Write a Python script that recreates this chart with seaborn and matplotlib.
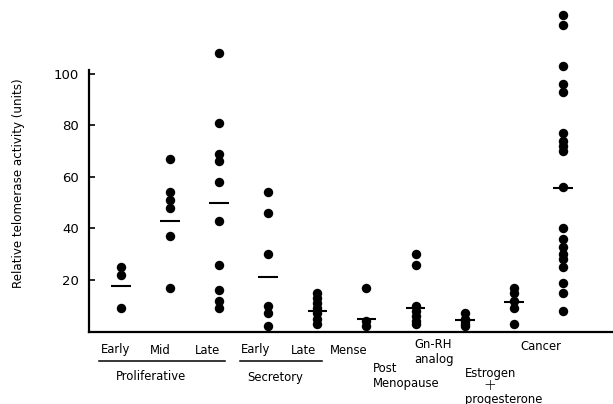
import matplotlib
matplotlib.use('Agg')
import matplotlib.pyplot as plt
import numpy as np
import pandas as pd
import seaborn as sns

# ── Datos ────────────────────────────────────────────────────────────────────
groups = ['prolif_early', 'prolif_mid', 'prolif_late', 'secr_early', 'secr_late',
          'mense', 'post_meno', 'gnrh', 'estro_prog', 'cancer']

prolif_early = [25, 22, 9]
prolif_mid = [67, 54, 51, 48, 37, 17]
prolif_late = [108, 81, 69, 66, 58, 43, 26, 16, 12, 9]
secr_early = [54, 46, 30, 10, 7, 2]
secr_late = [15, 13, 11, 9, 7, 5, 3]
mense = [17, 4, 2]
post_meno = [30, 26, 10, 8, 6, 4, 3]
gnrh = [7, 5, 4, 3, 2]
estro_prog = [17, 15, 12, 9, 3]
cancer = [123, 119, 103, 96, 93, 77, 74, 72, 70, 56, 40, 36, 33, 30, 28, 25,
          19, 15, 8]

group_means = [17.7, 42.9, 49.9, 21.2, 8.0, 4.9, 9.1, 4.5, 11.5, 55.7]

values = [prolif_early, prolif_mid, prolif_late, secr_early, secr_late,
          mense, post_meno, gnrh, estro_prog, cancer]
df = pd.DataFrame({
    'group': np.repeat(groups, [len(v) for v in values]),
    'activity': np.concatenate(values),
})

# ── Figura ───────────────────────────────────────────────────────────────────
W, H = 613, 404
fig = plt.figure(figsize=(W / 100, H / 100), dpi=100)
ax = fig.add_axes([89 / W, (H - 331.5) / H, (W - 89) / W, 331.5 / H])

sns.stripplot(data=df, x='group', y='activity', order=groups, jitter=False,
              color='black', size=6.8, linewidth=0, ax=ax)
ax.hlines(group_means, np.arange(len(groups)) - 0.2,
          np.arange(len(groups)) + 0.2, color='black', lw=1.5)

ax.set_xlim(-0.65, 10.02)
ax.set_ylim(0, 128.7)
ax.set_yticks([20, 40, 60, 80, 100])
ax.set_xticks([])
ax.set_xlabel('')
ax.set_ylabel('')
for s in ['top', 'right']:
    ax.spines[s].set_visible(False)
ax.spines['left'].set_bounds(0, 101.5)
ax.spines['left'].set_linewidth(1.6)
ax.spines['bottom'].set_linewidth(1.6)
ax.tick_params(axis='y', direction='in', length=4.5, width=1.2, pad=7,
               labelsize=9.5)
ax.patch.set_visible(False)


def ftext(px, py, s, ha='center', **kw):
    fig.text(px / W, 1 - py / H, s, ha=ha, va='center', fontsize=8.4, **kw)


fig.text(19 / W, 1 - 183 / H, 'Relative telomerase activity (units)',
         rotation=90, ha='center', va='center', fontsize=8.6)

# etiquetas de categorías
for px, s in [(116, 'Early'), (160, 'Mid'), (207, 'Late'),
              (256, 'Early'), (303, 'Late'), (349, 'Mense')]:
    ftext(px, 350, s)
ftext(151, 377, 'Proliferative')
ftext(275, 377, 'Secretory')
fig.add_artist(plt.Line2D([99 / W, 225 / W], [1 - 361 / H] * 2, color='black', lw=1.1))
fig.add_artist(plt.Line2D([240 / W, 322 / W], [1 - 361 / H] * 2, color='black', lw=1.1))
ftext(373, 369, 'Post', ha='left')
ftext(373, 384, 'Menopause', ha='left')
ftext(433, 344, 'Gn-RH')
ftext(434, 359, 'analog')
ftext(541, 346, 'Cancer')
ftext(465, 373, 'Estrogen', ha='left')
fig.text(490 / W, 1 - 386 / H, '+', ha='center', va='center', fontsize=11,
         fontweight='light')
ftext(465, 399, 'progesterone', ha='left')

fig.savefig('out.png', dpi=100)
plt.close(fig)
